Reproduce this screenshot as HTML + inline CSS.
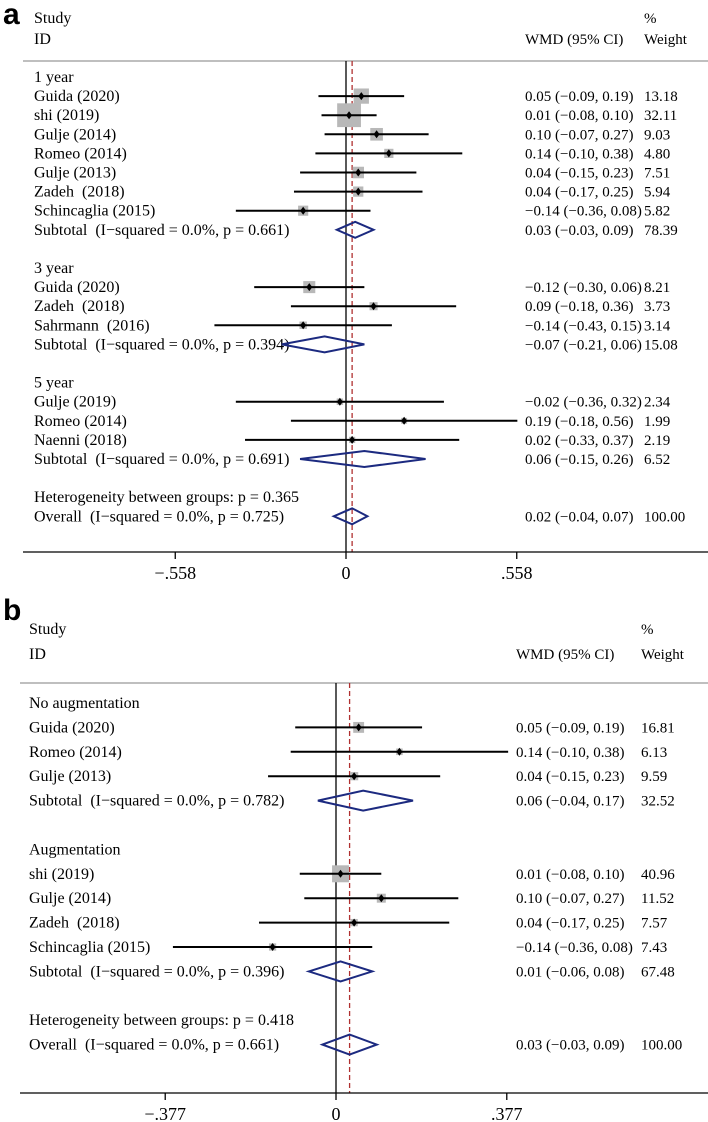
<!DOCTYPE html>
<html><head><meta charset="utf-8"><style>
html,body{margin:0;padding:0;background:#fff;}
svg{display:block;font-family:"Liberation Serif",serif;}
text{white-space:pre;}
</style></head><body>
<svg id="chart" width="708" height="1122" viewBox="0 0 708 1122" xmlns="http://www.w3.org/2000/svg" xml:space="preserve"></svg>
<script>
// Panel a data
const aLabels = ["1 year","Guida (2020)","shi (2019)","Gulje (2014)","Romeo (2014)","Gulje (2013)","Zadeh  (2018)","Schincaglia (2015)","Subtotal  (I\u2212squared = 0.0%, p = 0.661)","","3 year","Guida (2020)","Zadeh  (2018)","Sahrmann  (2016)","Subtotal  (I\u2212squared = 0.0%, p = 0.394)","","5 year","Gulje (2019)","Romeo (2014)","Naenni (2018)","Subtotal  (I\u2212squared = 0.0%, p = 0.691)","","Heterogeneity between groups: p = 0.365","Overall  (I\u2212squared = 0.0%, p = 0.725)"];
const aType = ["h","s","s","s","s","s","s","s","d","","h","s","s","s","d","","h","s","s","s","d","","h","d"];
const aEst = [null,0.05,0.01,0.10,0.14,0.04,0.04,-0.14,0.03,null,null,-0.12,0.09,-0.14,-0.07,null,null,-0.02,0.19,0.02,0.06,null,null,0.02];
const aLo = [null,-0.09,-0.08,-0.07,-0.10,-0.15,-0.17,-0.36,-0.03,null,null,-0.30,-0.18,-0.43,-0.21,null,null,-0.36,-0.18,-0.33,-0.15,null,null,-0.04];
const aHi = [null,0.19,0.10,0.27,0.38,0.23,0.25,0.08,0.09,null,null,0.06,0.36,0.15,0.06,null,null,0.32,0.56,0.37,0.26,null,null,0.07];
const aW = [null,13.18,32.11,9.03,4.80,7.51,5.94,5.82,78.39,null,null,8.21,3.73,3.14,15.08,null,null,2.34,1.99,2.19,6.52,null,null,100.00];
const aTicks = [-0.558,0,0.558];
const aTickLabels = ["\u2212.558","0",".558"];
const aOverall = 0.02;
// Panel b data
const bLabels = ["No augmentation","Guida (2020)","Romeo (2014)","Gulje (2013)","Subtotal  (I\u2212squared = 0.0%, p = 0.782)","","Augmentation","shi (2019)","Gulje (2014)","Zadeh  (2018)","Schincaglia (2015)","Subtotal  (I\u2212squared = 0.0%, p = 0.396)","","Heterogeneity between groups: p = 0.418","Overall  (I\u2212squared = 0.0%, p = 0.661)"];
const bType = ["h","s","s","s","d","","h","s","s","s","s","d","","h","d"];
const bEst = [null,0.05,0.14,0.04,0.06,null,null,0.01,0.10,0.04,-0.14,0.01,null,null,0.03];
const bLo = [null,-0.09,-0.10,-0.15,-0.04,null,null,-0.08,-0.07,-0.17,-0.36,-0.06,null,null,-0.03];
const bHi = [null,0.19,0.38,0.23,0.17,null,null,0.10,0.27,0.25,0.08,0.08,null,null,0.09];
const bW = [null,16.81,6.13,9.59,32.52,null,null,40.96,11.52,7.57,7.43,67.48,null,null,100.00];
const bTicks = [-0.377,0,0.377];
const bTickLabels = ["\u2212.377","0",".377"];
const bOverall = 0.03;

const NS="http://www.w3.org/2000/svg";
const svg=document.getElementById('chart');
function mk(tag,attrs,parent){const e=document.createElementNS(NS,tag);for(const k in attrs)e.setAttribute(k,attrs[k]);(parent||svg).appendChild(e);return e;}
function fmt(v){return (v<0?"\u2212":"")+Math.abs(v).toFixed(2);}

function panel(cfg){
  const FS=cfg.fs, RS=15;
  const g=mk('g',{});
  
  
  const X=v=>cfg.x0+v*cfg.scale;
  const Y=i=>cfg.row0+i*cfg.dy;
  let t=mk('text',{x:cfg.letterX,y:cfg.letterY,'font-family':'Liberation Sans, sans-serif','font-weight':'bold','font-size':30},g);t.textContent=cfg.letter;
  
  
  const hdr=[["Study",cfg.textX,cfg.h1,FS],["ID",cfg.textX,cfg.h2,FS],["WMD (95% CI)",cfg.ciX,cfg.h2,RS],["%",cfg.wX,cfg.h1,RS],["Weight",cfg.wX,cfg.h2,RS]];
  hdr.forEach(h=>{const e=mk('text',{x:h[1],y:h[2]+5,'font-size':h[3]},g);e.textContent=h[0];
    
    });
  const rule=mk('line',{x1:cfg.axL,x2:708,y1:cfg.ruleY,y2:cfg.ruleY,stroke:'#aaa','stroke-width':1.5},g);
  
  
  const zl=mk('line',{x1:X(0),x2:X(0),y1:cfg.ruleY,y2:cfg.axY,stroke:'#000','stroke-width':1.3},g);
  
  
  const ol=mk('line',{x1:X(cfg.overall),x2:X(cfg.overall),y1:cfg.ruleY,y2:cfg.axY,stroke:'#b03030','stroke-width':1.3,'stroke-dasharray':'5,3'},g);
  
  
  cfg.labels.forEach((lab,i)=>{
    const y=Y(i);
    if(lab){const e=mk('text',{x:cfg.textX,y:y+5,'font-size':FS},g);e.textContent=lab;
      
      }
    const tp=cfg.type[i];
    if(tp==='s'){
      const s=cfg.k*Math.sqrt(cfg.w[i]);
      const bx=mk('rect',{x:X(cfg.est[i])-s/2,y:y-s/2,width:s,height:s,fill:'#b8b8b8'},g);
      
      
      const ci=mk('line',{x1:X(cfg.lo[i]),x2:X(cfg.hi[i]),y1:y,y2:y,stroke:'#000','stroke-width':2},g);
      
      
      const d=mk('polygon',{points:`${X(cfg.est[i])-3},${y} ${X(cfg.est[i])},${y-4} ${X(cfg.est[i])+3},${y} ${X(cfg.est[i])},${y+4}`,fill:'#000'},g);
      
      
    } else if(tp==='d'){
      const h=cfg.dh/2;
      const d=mk('polygon',{points:`${X(cfg.lo[i])},${y} ${X(cfg.est[i])},${y-h} ${X(cfg.hi[i])},${y} ${X(cfg.est[i])},${y+h}`,fill:'none',stroke:'#1c2a80','stroke-width':2},g);
      
      
    }
    if(cfg.est[i]!==null){
      const c=mk('text',{x:cfg.ciX,y:y+5,'font-size':RS},g);
      c.textContent=`${fmt(cfg.est[i])} (${fmt(cfg.lo[i])}, ${fmt(cfg.hi[i])})`;
      
      
      const w=mk('text',{x:cfg.wX,y:y+5,'font-size':RS},g);
      w.textContent=cfg.w[i].toFixed(2);
      
      
    }
  });
  const ax=mk('line',{x1:cfg.axL,x2:708,y1:cfg.axY,y2:cfg.axY,stroke:'#000','stroke-width':1.3},g);
  
  
  cfg.ticks.forEach((tv,j)=>{
    const tk=mk('line',{x1:X(tv),x2:X(tv),y1:cfg.axY,y2:cfg.axY+7,stroke:'#000','stroke-width':1.3},g);
    
    
    const tl=mk('text',{x:X(tv),y:cfg.axY+27,'font-size':18,'text-anchor':'middle'},g);
    tl.textContent=cfg.tickLabels[j];
    
    
  });
}

panel({name:'panel-a',fs:16,letter:'a',letterX:3,letterY:24,textX:34,ciX:525,wX:644,h1:18,h2:39,ruleY:61,row0:77,dy:19.1,
  x0:346,scale:306,axL:23,axY:552,k:4.2,dh:16,labels:aLabels,type:aType,est:aEst,lo:aLo,hi:aHi,w:aW,
  ticks:aTicks,tickLabels:aTickLabels,overall:aOverall});
panel({name:'panel-b',fs:16,letter:'b',letterX:3,letterY:620,textX:29,ciX:516,wX:641,h1:629,h2:654,ruleY:683,row0:703,dy:24.4,
  x0:336,scale:453,axL:20,axY:1093,k:2.65,dh:20,labels:bLabels,type:bType,est:bEst,lo:bLo,hi:bHi,w:bW,
  ticks:bTicks,tickLabels:bTickLabels,overall:bOverall});
</script>
</body></html>
